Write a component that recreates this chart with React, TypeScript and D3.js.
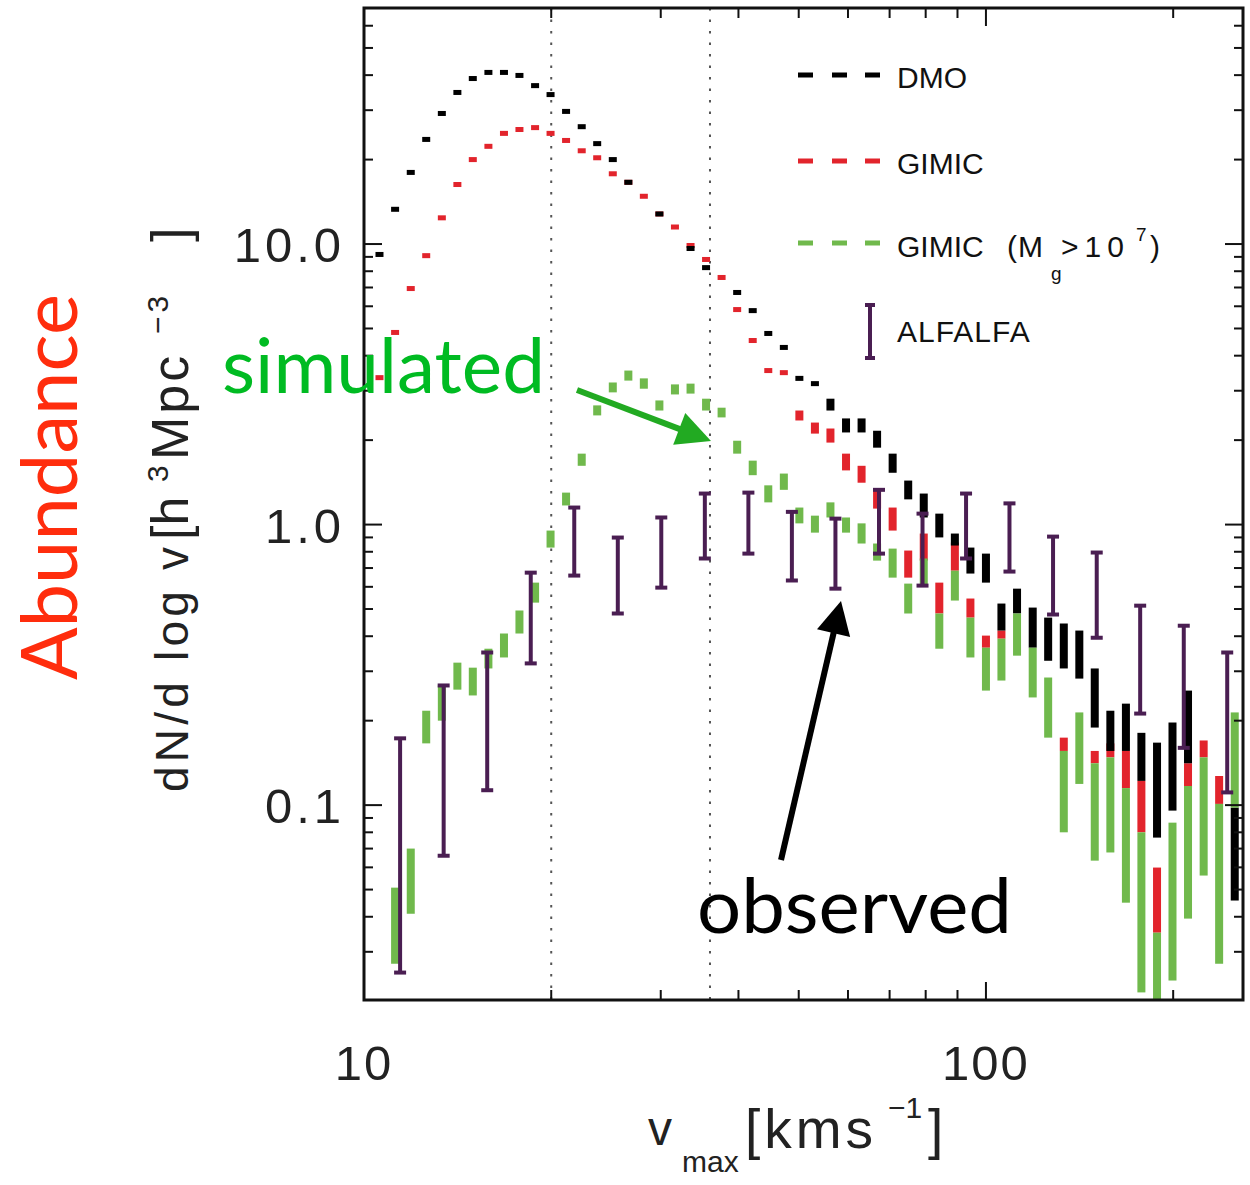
import React from 'react';
import * as d3 from 'd3';

// ---- data ----
const vBins = [10.59, 11.22, 11.89, 12.59, 13.34, 14.13, 14.96, 15.85, 16.79, 17.78, 18.84, 19.95, 21.13, 22.39, 23.71, 25.12, 26.61, 28.18, 29.85, 31.62, 33.5, 35.48, 37.58, 39.81, 42.17, 44.67, 47.32, 50.12, 53.09, 56.23, 59.57, 63.1, 66.83, 70.79, 74.99, 79.43, 84.14, 89.13, 94.41, 100.0, 105.9, 112.2, 118.9, 125.9, 133.4, 141.3, 149.6, 158.5, 167.9, 177.8, 188.4, 199.5, 211.3, 223.9, 237.1, 251.2];

const dmoHi = [9.18, 13.3, 18.0, 23.6, 29.2, 34.7, 38.9, 40.9, 40.9, 39.9, 36.7, 34.1, 29.7, 26.2, 22.8, 20.0, 16.6, null, 12.8, null, 9.64, 8.24, null, 6.72, 5.79, 4.8, 4.28, 3.32, 3.18, 2.81, 2.39, 2.39, 2.16, 1.79, 1.435, 1.29, 1.094, 0.929, 0.828, 0.788, 0.523, 0.591, 0.506, 0.466, 0.444, 0.419, 0.307, 0.217, 0.23, 0.181, 0.167, 0.197, 0.256, null, null, 0.098];
const dmoLo = [9.18, 13.3, 18.0, 23.6, 29.2, 34.7, 38.9, 40.9, 40.9, 39.9, 36.7, 34.1, 29.7, 26.2, 22.8, 20.0, 16.6, null, 12.8, null, 9.64, 8.24, null, 6.72, 5.79, 4.8, 4.28, 3.32, 3.18, 2.55, 2.13, 2.13, 1.88, 1.53, 1.23, 1.06, 0.9, 0.842, 0.669, 0.621, 0.419, 0.482, 0.364, 0.327, 0.307, 0.2825, 0.189, 0.156, 0.156, 0.122, 0.0766, 0.0956, 0.141, null, null, 0.0457];

const gimicHi = [3.34, 4.84, 6.94, 9.09, 12.4, 16.3, 20.0, 22.3, 24.8, 25.6, 26.0, 24.8, 23.4, 21.5, 20.3, 17.8, 16.6, 14.8, 12.8, 11.5, 9.88, 8.81, 7.6, 5.84, 4.53, 3.54, 3.48, 2.55, 2.31, 2.2, 1.79, 1.62, 1.34, 1.15, 0.808, 0.929, 0.621, 0.863, 0.545, 0.402, 0.419, null, null, null, 0.174, null, 0.156, 0.166, 0.156, 0.122, 0.0599, null, 0.141, 0.17, 0.127, null];
const gimicLo = [3.34, 4.84, 6.94, 9.09, 12.4, 16.3, 20.0, 22.3, 24.8, 25.6, 26.0, 24.8, 23.4, 21.5, 20.3, 17.8, 16.6, 14.8, 12.8, 11.5, 9.88, 8.81, 7.6, 5.84, 4.53, 3.54, 3.48, 2.35, 2.11, 1.96, 1.56, 1.41, 1.14, 0.952, 0.647, 0.744, 0.482, 0.685, 0.466, 0.364, 0.392, null, null, null, 0.156, null, 0.141, 0.148, 0.115, 0.08, 0.0351, null, 0.115, 0.148, 0.101, null];

const gasHi = [null, 0.0508, 0.07, 0.217, 0.267, 0.322, 0.309, 0.361, 0.409, 0.494, 0.621, 0.952, 1.3, 1.79, 2.66, 3.21, 3.54, 3.32, 2.77, 3.16, 3.18, 2.81, 2.61, 1.99, 1.69, 1.38, 1.52, 1.15, 1.076, 1.2, 1.06, 1.01, 0.856, 0.821, 0.616, 0.757, 0.482, 0.685, 0.466, 0.364, 0.392, 0.482, 0.364, 0.285, 0.156, 0.214, 0.141, 0.148, 0.115, 0.08, 0.0351, 0.0866, 0.117, 0.148, 0.101, 0.214];
const gasLo = [null, 0.0272, 0.041, 0.166, 0.2, 0.258, 0.246, 0.307, 0.336, 0.409, 0.527, 0.828, 1.17, 1.62, 2.45, 2.96, 3.26, 3.05, 2.55, 2.91, 2.93, 2.55, 2.41, 1.79, 1.5, 1.2, 1.33, 1.01, 0.936, 1.06, 0.936, 0.856, 0.744, 0.647, 0.482, 0.606, 0.361, 0.536, 0.336, 0.256, 0.278, 0.341, 0.242, 0.174, 0.08, 0.119, 0.0634, 0.0678, 0.0449, 0.0215, 0.019, 0.0237, 0.0394, 0.0561, 0.0272, 0.098];

const alfV = [11.43, 13.43, 15.78, 18.54, 21.78, 25.59, 30.06, 35.32, 41.5, 48.75, 57.28, 67.3, 79.07, 92.9, 109.1, 128.2, 150.7, 177.0, 208.0, 244.3];
const alfHi = [0.173, 0.267, 0.35, 0.674, 1.15, 0.899, 1.06, 1.29, 1.3, 1.11, 1.05, 1.33, 1.094, 1.29, 1.19, 0.906, 0.795, 0.514, 0.436, 0.35];
const alfLo = [0.0253, 0.066, 0.113, 0.32, 0.658, 0.482, 0.596, 0.757, 0.788, 0.632, 0.591, 0.788, 0.606, 0.757, 0.68, 0.478, 0.395, 0.212, 0.16, 0.111];

const markerLines = [20, 36];
const yTickLabels = [
  { v: 10, t: '10.0' },
  { v: 1, t: '1.0' },
  { v: 0.1, t: '0.1' },
];
const xTickLabels = [
  { v: 10, t: '10' },
  { v: 100, t: '100' },
];

const BLACK = '#000000';
const RED = '#e2242c';
const GREEN = '#70b94c';
const PURPLE = '#4a1e52';

const FONT = '"Liberation Sans", Arial, sans-serif';
const HUMAN = 'Lato, "Open Sans", sans-serif';

function arrow(x1: number, y1: number, x2: number, y2: number, color: string, w: number, headL: number, headW: number, key: string) {
  const dx = x2 - x1, dy = y2 - y1;
  const L = Math.hypot(dx, dy);
  const ux = dx / L, uy = dy / L;
  const bx = x2 - ux * headL, by = y2 - uy * headL;
  const px = -uy, py = ux;
  const pts = [
    [x2, y2],
    [bx + px * headW, by + py * headW],
    [bx - px * headW, by - py * headW],
  ].map(p => p.join(',')).join(' ');
  return (
    <g key={key}>
      <line x1={x1} y1={y1} x2={bx + ux * 2} y2={by + uy * 2} stroke={color} strokeWidth={w} />
      <polygon points={pts} fill={color} />
    </g>
  );
}

export default function App() {
  const plot = { left: 364, right: 1243, top: 8, bottom: 1000 };
  const x = d3.scaleLog().domain([10, 259]).range([plot.left, plot.right]);
  const y = d3.scaleLog().domain([0.0202, 69.4]).range([plot.bottom, plot.top]);

  const barW = 8;
  const minH = 5;
  const bars = (hi: (number | null)[], lo: (number | null)[], color: string, key: string) =>
    vBins.map((v, i) => {
      const h = hi[i], l = lo[i];
      if (h == null || l == null) return null;
      let y1 = y(h), y2 = y(l);
      if (y2 - y1 < minH) {
        const c = (y1 + y2) / 2;
        y1 = c - minH / 2;
        y2 = c + minH / 2;
      }
      return <rect key={key + i} x={x(v) - barW / 2} y={y1} width={barW} height={y2 - y1} fill={color} />;
    });

  const yTicks: { v: number; major: boolean }[] = [];
  [-2, -1, 0, 1].forEach(e => {
    for (let k = 1; k <= 9; k++) {
      const v = k * Math.pow(10, e);
      if (v >= 0.0202 && v <= 69.4) yTicks.push({ v, major: k === 1 });
    }
  });
  const xTicks: { v: number; major: boolean }[] = [];
  [1, 2].forEach(e => {
    for (let k = 1; k <= 9; k++) {
      const v = k * Math.pow(10, e);
      if (v > 10 && v < 259) xTicks.push({ v, major: k === 1 });
    }
  });

  const capW = 12;

  return (
    <svg width={1250} height={1185} style={{ position: 'absolute', left: 0, top: 0, background: '#fff' }}>
      <defs>
        <clipPath id="plotclip">
          <rect x={plot.left} y={plot.top} width={plot.right - plot.left} height={plot.bottom - plot.top} />
        </clipPath>
      </defs>
      <rect x={0} y={0} width={1250} height={1185} fill="#fff" />

      {markerLines.map(v => (
        <line key={'ml' + v} x1={x(v)} x2={x(v)} y1={plot.top} y2={plot.bottom} stroke="#555" strokeWidth={2} strokeDasharray="2.5,9" />
      ))}

      <g clipPath="url(#plotclip)">
        {bars(gimicHi, gimicLo, RED, 'r')}
        {bars(dmoHi, dmoLo, BLACK, 'k')}
        {bars(gasHi, gasLo, GREEN, 'g')}
        {alfV.map((v, j) => {
          const cx = x(v), y1 = y(alfHi[j]), y2 = y(alfLo[j]);
          return (
            <g key={'a' + j} stroke={PURPLE} strokeWidth={4}>
              <line x1={cx} x2={cx} y1={y1} y2={y2} />
              <line x1={cx - capW / 2} x2={cx + capW / 2} y1={y1} y2={y1} />
              <line x1={cx - capW / 2} x2={cx + capW / 2} y1={y2} y2={y2} />
            </g>
          );
        })}
      </g>

      <rect x={plot.left} y={plot.top} width={plot.right - plot.left} height={plot.bottom - plot.top} fill="none" stroke="#111" strokeWidth={3} />
      {yTicks.map(t => {
        const yy = y(t.v);
        const len = t.major ? 18 : 9;
        return (
          <g key={'yt' + t.v} stroke="#111" strokeWidth={2}>
            <line x1={plot.left} x2={plot.left + len} y1={yy} y2={yy} />
            <line x1={plot.right} x2={plot.right - len} y1={yy} y2={yy} />
          </g>
        );
      })}
      {xTicks.map(t => {
        const xx = x(t.v);
        const len = t.major ? 18 : 10;
        return (
          <g key={'xt' + t.v} stroke="#111" strokeWidth={2}>
            <line x1={xx} x2={xx} y1={plot.bottom} y2={plot.bottom - len} />
            <line x1={xx} x2={xx} y1={plot.top} y2={plot.top + len} />
          </g>
        );
      })}

      {yTickLabels.map(t => (
        <text key={'yl' + t.t} x={345} y={y(t.v) + 18} textAnchor="end" fontFamily={FONT} fontSize={49} fill="#222" letterSpacing={4}>
          {t.t}
        </text>
      ))}
      {xTickLabels.map(t => (
        <text key={'xl' + t.t} x={x(t.v)} y={1080} textAnchor="middle" fontFamily={FONT} fontSize={49} fill="#222" letterSpacing={2}>
          {t.t}
        </text>
      ))}

      <g fontFamily={FONT} fill="#222">
        <text x={648} y={1145} fontSize={48}>v</text>
        <text x={682} y={1172} fontSize={30}>max</text>
        <text x={745} y={1148} fontSize={55} letterSpacing={4}>[kms</text>
        <text x={888} y={1118} fontSize={30}>−1</text>
        <text x={928} y={1148} fontSize={55}>]</text>
      </g>
      <g transform="translate(188,792) rotate(-90)" fontFamily={FONT} fill="#222">
        <text x={0} y={0} fontSize={46} textLength={245} lengthAdjust="spacing">dN/d log v</text>
        <text x={252} y={0} fontSize={52}>[h</text>
        <text x={310} y={-20} fontSize={30}>3</text>
        <text x={332} y={0} fontSize={52} letterSpacing={3}>Mpc</text>
        <text x={458} y={-20} fontSize={30} letterSpacing={4}>−3</text>
        <text x={550} y={0} fontSize={52}>]</text>
      </g>

      {[
        { c: BLACK, y: 75 },
        { c: RED, y: 161 },
        { c: GREEN, y: 243 },
      ].map(l => (
        <g key={'lg' + l.y}>
          {[798, 832, 865].map(xx => (
            <rect key={xx} x={xx} y={l.y - 2.5} width={15} height={5} fill={l.c} />
          ))}
        </g>
      ))}
      <g stroke={PURPLE} strokeWidth={4}>
        <line x1={870} x2={870} y1={305} y2={358} />
        <line x1={865} x2={875} y1={305} y2={305} />
        <line x1={865} x2={875} y1={358} y2={358} />
      </g>
      <g fontFamily={FONT} fill="#111" fontSize={30}>
        <text x={897} y={88}>DMO</text>
        <text x={897} y={174}>GIMIC</text>
        <text x={897} y={257}>GIMIC</text>
        <text x={1007} y={257}>(</text>
        <text x={1018} y={257}>M</text>
        <text x={1051} y={280} fontSize={19}>g</text>
        <text x={1061} y={257} letterSpacing={6}>&gt;10</text>
        <text x={1136} y={241} fontSize={19}>7</text>
        <text x={1150} y={257}>)</text>
        <text x={897} y={342} letterSpacing={1}>ALFALFA</text>
      </g>

      <text transform="translate(77,680) rotate(-90)" fontFamily={HUMAN} fontSize={78} fill="#ff2d0d" textLength={386} lengthAdjust="spacingAndGlyphs">
        Abundance
      </text>
      <text x={222} y={393} fontFamily={HUMAN} fontSize={76} fill="#00bb22" textLength={323} lengthAdjust="spacingAndGlyphs">
        simulated
      </text>
      <text x={697} y={933} fontFamily={HUMAN} fontSize={76} fill="#000" textLength={315} lengthAdjust="spacingAndGlyphs">
        observed
      </text>
      {arrow(577, 390, 711, 441, '#22aa22', 6, 34, 17, 'ga')}
      {arrow(781, 860, 841, 601, '#000', 6, 33, 17, 'ka')}
    </svg>
  );
}
